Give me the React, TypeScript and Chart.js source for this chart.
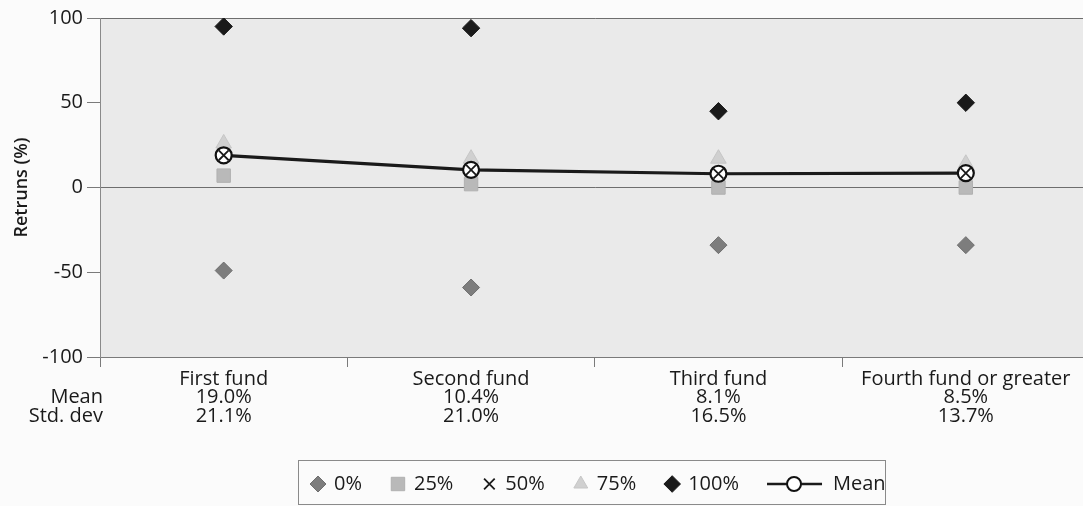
import React, { useEffect, useRef } from 'react';
import { Chart, registerables } from 'chart.js';
import { drawPoint } from 'chart.js/helpers';

Chart.register(...registerables);

// ---- data ----
const categories = ['First fund', 'Second fund', 'Third fund', 'Fourth fund or greater'];
const meanRow = ['19.0%', '10.4%', '8.1%', '8.5%'];
const stdRow = ['21.1%', '21.0%', '16.5%', '13.7%'];
const rowLabels = ['Mean', 'Std. dev'];
const p0 = [-49, -59, -34, -34];
const p25 = [7, 2, 0, 0];
const p50 = [19.0, 10.4, 8.1, 8.5];
const p75 = [26, 17, 17, 14];
const p100 = [95, 94, 45, 50];
const meanValues = [19.0, 10.4, 8.1, 8.5];
const yMin = -100;
const yMax = 100;
const yStep = 50;
const yTitle = 'Retruns (%)';

const FONT = '"Open Sans", "Noto Sans", sans-serif';

const bgPlugin = {
  id: 'bgPlugin',
  beforeDraw(chart: any) {
    const { ctx, chartArea } = chart;
    ctx.save();
    ctx.fillStyle = '#fbfbfb';
    ctx.fillRect(0, 0, chart.width, chart.height);
    ctx.fillStyle = '#eaeaea';
    ctx.fillRect(chartArea.left, chartArea.top, chartArea.right - chartArea.left, chartArea.bottom - chartArea.top);
    ctx.restore();
  },
};

const rowLabelPlugin = {
  id: 'rowLabelPlugin',
  afterDraw(chart: any) {
    const { ctx } = chart;
    const xs = chart.scales.x;
    ctx.save();
    ctx.font = `20px ${FONT}`;
    ctx.fillStyle = '#1a1a1a';
    ctx.textAlign = 'right';
    ctx.textBaseline = 'middle';
    const lh = 18.5;
    rowLabels.forEach((t, i) => {
      ctx.fillText(t, 103, xs.top + 13 + lh * (i + 1.5));
    });
    ctx.restore();
  },
};

const legendPlugin = {
  id: 'boxLegend',
  afterDraw(chart: any) {
    const { ctx } = chart;
    ctx.save();
    ctx.strokeStyle = '#8a8a8a';
    ctx.lineWidth = 1;
    ctx.strokeRect(298.5, 460.5, 587, 44);
    ctx.font = `20px ${FONT}`;
    ctx.textBaseline = 'middle';
    ctx.textAlign = 'left';
    const cy = 484;
    let x = 310;
    chart.data.datasets.forEach((ds: any) => {
      const isMean = ds.showLine;
      if (isMean) {
        ctx.strokeStyle = '#1a1a1a';
        ctx.lineWidth = 2.5;
        ctx.beginPath();
        ctx.moveTo(x, cy);
        ctx.lineTo(x + 55, cy);
        ctx.stroke();
        ctx.fillStyle = '#ffffff';
        ctx.strokeStyle = '#111';
        ctx.lineWidth = 2;
        ctx.beginPath();
        ctx.arc(x + 27, cy, 7, 0, Math.PI * 2);
        ctx.fill();
        ctx.stroke();
        x += 55 + 11;
      } else {
        ctx.fillStyle = ds.pointBackgroundColor;
        ctx.strokeStyle = ds.pointBorderColor;
        ctx.lineWidth = ds.pointBorderWidth;
        drawPoint(ctx, {
          pointStyle: ds.pointStyle,
          radius: ds.legendRadius,
          rotation: 0,
          borderWidth: ds.pointBorderWidth,
        } as any, x + 8, cy);
        x += 16 + 8;
      }
      ctx.fillStyle = '#1a1a1a';
      ctx.fillText(ds.label, x, cy);
      x += ctx.measureText(ds.label).width + 28;
    });
    ctx.restore();
  },
};

export default function App() {
  const ref = useRef<HTMLCanvasElement | null>(null);

  useEffect(() => {
    if (!ref.current) return;
    const labels = categories.map((c, i) => [c, meanRow[i], stdRow[i]]);
    const chart = new Chart(ref.current, {
      type: 'line',
      data: {
        labels,
        datasets: [
          {
            label: '0%', data: p0, showLine: false, order: 5,
            pointStyle: 'rectRot', pointRadius: 8.5, pointHoverRadius: 8.5,
            pointBackgroundColor: '#7d7d7d', pointBorderColor: '#6f6f6f', pointBorderWidth: 1,
            legendRadius: 8,
          } as any,
          {
            label: '25%', data: p25, showLine: false, order: 4,
            pointStyle: 'rect', pointRadius: 9.5, pointHoverRadius: 9.5,
            pointBackgroundColor: '#b9b9b9', pointBorderColor: '#b0b0b0', pointBorderWidth: 1,
            legendRadius: 9.5,
          } as any,
          {
            label: '50%', data: p50, showLine: false, order: 0,
            pointStyle: 'crossRot', pointRadius: 7, pointHoverRadius: 7,
            pointBackgroundColor: '#1a1a1a', pointBorderColor: '#1a1a1a', pointBorderWidth: 1.8,
            legendRadius: 7.5,
          } as any,
          {
            label: '75%', data: p75, showLine: false, order: 3,
            pointStyle: 'triangle', pointRadius: 9, pointHoverRadius: 9,
            pointBackgroundColor: '#d0d0d0', pointBorderColor: '#c6c6c6', pointBorderWidth: 1,
            legendRadius: 8,
          } as any,
          {
            label: '100%', data: p100, showLine: false, order: 2,
            pointStyle: 'rectRot', pointRadius: 8.7, pointHoverRadius: 8.7,
            pointBackgroundColor: '#1a1a1a', pointBorderColor: '#1a1a1a', pointBorderWidth: 1,
            legendRadius: 8.3,
          } as any,
          {
            label: 'Mean', data: meanValues, showLine: true, order: 1,
            borderColor: '#1a1a1a', borderWidth: 3.2, tension: 0, fill: false,
            pointStyle: 'circle', pointRadius: 8, pointHoverRadius: 8,
            pointBackgroundColor: '#ffffff', pointBorderColor: '#111', pointBorderWidth: 2.2,
          } as any,
        ],
      },
      options: {
        animation: false,
        responsive: false,
        devicePixelRatio: 1,
        events: [],
        layout: { padding: { top: 18, right: 7, left: 0, bottom: 0 } },
        plugins: {
          legend: { display: false },
          tooltip: { enabled: false },
        },
        scales: {
          x: {
            type: 'category',
            offset: true,
            grid: {
              offset: true,
              drawOnChartArea: false,
              drawTicks: true,
              tickLength: 10,
              color: '#7a7a7a',
            },
            border: { display: true, color: '#7a7a7a', width: 1 },
            ticks: {
              padding: 3,
              color: '#1a1a1a',
              maxRotation: 0,
              autoSkip: false,
              font: { family: FONT, size: 20, lineHeight: '18.5px' as any },
            },
            afterFit: (s: any) => { s.height = 149; },
          },
          y: {
            min: yMin,
            max: yMax,
            ticks: {
              stepSize: yStep,
              padding: 4,
              color: '#1a1a1a',
              font: { family: FONT, size: 20 },
            },
            grid: {
              drawTicks: true,
              tickLength: 13,
              tickColor: '#7a7a7a',
              color: (c: any) => (c.tick && c.tick.value % 100 === 0 ? '#6e6e6e' : 'rgba(0,0,0,0)'),
              lineWidth: 1,
            },
            border: { display: true, color: '#8a8a8a', width: 1 },
            title: {
              display: true,
              text: yTitle,
              color: '#1a1a1a',
              padding: { top: 11, bottom: 0 },
              font: { family: FONT, size: 18, weight: '600' as any },
            },
            afterFit: (s: any) => { s.width = 100; },
          },
        },
      },
      plugins: [bgPlugin, rowLabelPlugin, legendPlugin],
    });
    return () => chart.destroy();
  }, []);

  return (
    <div style={{ position: 'fixed', left: 0, top: 0, width: 1083, height: 506, overflow: 'hidden', background: '#fbfbfb' }}>
      <canvas ref={ref} width={1100} height={506} style={{ display: 'block', width: 1100, height: 506 }} />
    </div>
  );
}
